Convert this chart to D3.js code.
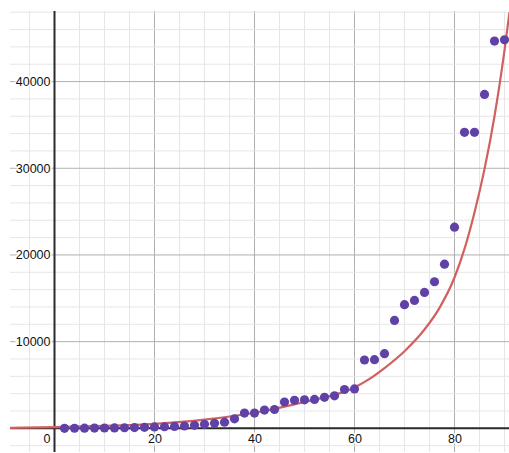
<!DOCTYPE html>
<html><head><meta charset="utf-8">
<script src="https://cdn.jsdelivr.net/npm/d3@7"></script>
<style>
html,body{margin:0;padding:0;background:#fff;}
svg text{font-family:"Liberation Sans",Arial,sans-serif;}
</style></head>
<body>
<script>
// Data points (x, y)
const pointX = [2,4,6,8,10,12,14,16,18,20,22,24,26,28,30,32,34,36,38,40,42,44,46,48,50,52,54,56,58,60,62,64,66,68,70,72,74,76,78,80,82,84,86,88,90];
const pointY = [0,10,20,30,40,50,70,90,120,160,185,220,270,345,460,575,710,1100,1760,1760,2110,2170,3040,3240,3290,3340,3580,3750,4480,4550,7880,7920,8610,12450,14260,14750,15680,16910,18940,23200,34140,34140,38520,44670,44820];
// Fitted curve
const curveX = [-9,0,10,20,30,40,50,60,63,66,70,74,77,80,82,84,86,88,90,91];
const curveY = [50,130,280,520,1000,1800,3050,4700,5700,6950,8900,11400,13900,17400,20700,24900,29900,36000,43600,48000];
const xTicks = [0,20,40,60,80];
const yTicks = [10000,20000,30000,40000];

const W = 509, H = 453;
const svg = d3.select("body").append("svg").attr("width", W).attr("height", H);
const x = d3.scaleLinear().domain([-8.9, 90.9]).range([10, 509]);
const y = d3.scaleLinear().domain([-2730, 48140]).range([452, 11]);

const g = svg.append("g");
g.append("clipPath").attr("id","clip").append("rect").attr("x",10).attr("y",11).attr("width",499).attr("height",441);
const plot = g.append("g").attr("clip-path","url(#clip)");

// grid
const xMinor = d3.range(-5, 95, 5);
const yMinor = d3.range(-2000, 50000, 2000);
plot.selectAll(".vx").data(xMinor).join("line")
  .attr("x1", d=>x(d)).attr("x2", d=>x(d)).attr("y1", 11).attr("y2", 452)
  .attr("stroke", d => d % 20 === 0 ? "#b0b0b0" : "#e6e6e6").attr("stroke-width", 1);
plot.selectAll(".hy").data(yMinor).join("line")
  .attr("y1", d=>y(d)).attr("y2", d=>y(d)).attr("x1", 10).attr("x2", 509)
  .attr("stroke", d => d % 10000 === 0 ? "#b0b0b0" : "#e6e6e6").attr("stroke-width", 1);

// axes lines
plot.append("line").attr("x1", x(0)).attr("x2", x(0)).attr("y1", 11).attr("y2", 452).attr("stroke", "#2b2b2b").attr("stroke-width", 2);
plot.append("line").attr("y1", y(0)).attr("y2", y(0)).attr("x1", 10).attr("x2", 509).attr("stroke", "#2b2b2b").attr("stroke-width", 2);

// curve
const line = d3.line().x(d=>x(d[0])).y(d=>y(d[1])).curve(d3.curveMonotoneX);
plot.append("path").datum(curveX.map((v,i)=>[v, curveY[i]]))
  .attr("d", line).attr("fill","none").attr("stroke","#d0615e").attr("stroke-width",2.2);

// points
plot.selectAll(".pt").data(pointX.map((v,i)=>[v, pointY[i]])).join("circle")
  .attr("cx", d=>x(d[0])).attr("cy", d=>y(d[1])).attr("r", 4.6).attr("fill", "#6042a6");

// axis labels
const yAxis = d3.axisLeft(y).tickValues(yTicks).tickSize(0).tickPadding(4).tickFormat(d3.format("d"));
const ya = svg.append("g").attr("transform", `translate(${x(0)},0)`).call(yAxis);
ya.select(".domain").remove();
const xAxis = d3.axisBottom(x).tickValues(xTicks).tickSize(0).tickPadding(6).tickFormat(d3.format("d"));
const xa = svg.append("g").attr("transform", `translate(0,${y(0)})`).call(xAxis);
xa.select(".domain").remove();
xa.selectAll(".tick").filter(d=>d===0).select("text").attr("dx", -8);
svg.selectAll(".tick text").attr("font-size", 12.5).attr("fill", "#111")
  .attr("font-family", '"Liberation Sans",Arial,sans-serif')
  .attr("stroke", "#fff").attr("stroke-width", 3).attr("paint-order", "stroke");
</script>
</body></html>
